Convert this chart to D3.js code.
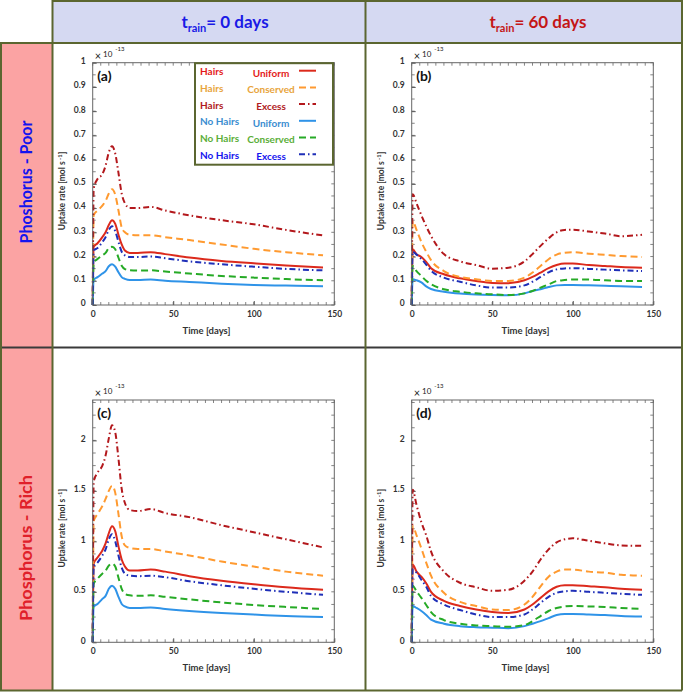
<!DOCTYPE html>
<html>
<head>
<meta charset="utf-8">
<script src="https://cdn.jsdelivr.net/npm/d3@7"></script>
<style>
  body { margin: 0; background: #fff; }
  text { font-family: Lato, "Open Sans", sans-serif; }
</style>
</head>
<body>
<div id="chart"></div>
<script>
// time grids (days)
const timeT0 = [0, 0.6, 3, 6, 8, 10, 12, 14, 16, 18, 20, 23, 28, 36, 45, 60, 80, 100, 120, 143];
const timeT60 = [0, 0.6, 3, 6, 9, 12, 20, 30, 40, 50, 60, 70, 75, 80, 85, 90, 95, 100, 110, 120, 130, 143];

// series order: Hairs Uniform, Hairs Conserved, Hairs Excess, No Hairs Uniform, No Hairs Conserved, No Hairs Excess
// values in 1e-13 mol/s
const poorT0 = [
  [0, 0.24, 0.255, 0.28, 0.30, 0.33, 0.35, 0.335, 0.29, 0.25, 0.225, 0.215, 0.215, 0.218, 0.21, 0.196, 0.182, 0.172, 0.163, 0.155],
  [0, 0.37, 0.39, 0.41, 0.43, 0.46, 0.478, 0.455, 0.39, 0.32, 0.30, 0.29, 0.288, 0.288, 0.28, 0.268, 0.25, 0.232, 0.218, 0.205],
  [0, 0.48, 0.52, 0.54, 0.575, 0.63, 0.655, 0.625, 0.545, 0.46, 0.42, 0.40, 0.40, 0.405, 0.39, 0.37, 0.35, 0.333, 0.31, 0.287],
  [0, 0.105, 0.115, 0.13, 0.14, 0.16, 0.168, 0.158, 0.135, 0.115, 0.108, 0.103, 0.103, 0.105, 0.10, 0.095, 0.088, 0.083, 0.08, 0.077],
  [0, 0.175, 0.19, 0.205, 0.215, 0.235, 0.24, 0.23, 0.195, 0.162, 0.148, 0.143, 0.142, 0.143, 0.138, 0.13, 0.12, 0.113, 0.107, 0.102],
  [0, 0.225, 0.235, 0.26, 0.28, 0.31, 0.325, 0.305, 0.26, 0.22, 0.205, 0.198, 0.198, 0.20, 0.193, 0.18, 0.168, 0.158, 0.149, 0.143]
];
const poorT60 = [
  [0, 0.23, 0.21, 0.198, 0.178, 0.152, 0.127, 0.11, 0.099, 0.091, 0.09, 0.102, 0.116, 0.134, 0.152, 0.165, 0.171, 0.171, 0.165, 0.161, 0.157, 0.154],
  [0, 0.347, 0.31, 0.26, 0.22, 0.185, 0.14, 0.116, 0.106, 0.099, 0.099, 0.113, 0.134, 0.161, 0.189, 0.208, 0.216, 0.218, 0.212, 0.207, 0.202, 0.198],
  [0, 0.457, 0.42, 0.37, 0.325, 0.285, 0.21, 0.18, 0.165, 0.15, 0.154, 0.18, 0.21, 0.244, 0.275, 0.30, 0.31, 0.311, 0.303, 0.295, 0.284, 0.29],
  [0, 0.106, 0.102, 0.093, 0.077, 0.066, 0.055, 0.047, 0.043, 0.041, 0.04, 0.048, 0.058, 0.065, 0.074, 0.081, 0.083, 0.083, 0.081, 0.079, 0.077, 0.074],
  [0, 0.161, 0.14, 0.12, 0.10, 0.086, 0.065, 0.055, 0.048, 0.044, 0.041, 0.048, 0.058, 0.072, 0.085, 0.099, 0.103, 0.105, 0.105, 0.102, 0.099, 0.099],
  [0, 0.22, 0.208, 0.19, 0.167, 0.142, 0.113, 0.096, 0.081, 0.072, 0.072, 0.081, 0.096, 0.116, 0.135, 0.147, 0.151, 0.152, 0.149, 0.146, 0.143, 0.14]
];
const richT0 = [
  [0, 0.78, 0.84, 0.91, 0.98, 1.08, 1.15, 1.10, 0.95, 0.82, 0.75, 0.71, 0.71, 0.72, 0.70, 0.655, 0.61, 0.575, 0.545, 0.52],
  [0, 1.20, 1.27, 1.35, 1.42, 1.50, 1.55, 1.48, 1.27, 1.05, 0.96, 0.935, 0.925, 0.925, 0.90, 0.86, 0.80, 0.75, 0.70, 0.66],
  [0, 1.59, 1.68, 1.75, 1.85, 2.02, 2.15, 2.08, 1.82, 1.52, 1.38, 1.31, 1.30, 1.32, 1.28, 1.24, 1.16, 1.09, 1.02, 0.94],
  [0, 0.35, 0.38, 0.43, 0.46, 0.53, 0.56, 0.53, 0.45, 0.38, 0.355, 0.34, 0.34, 0.345, 0.33, 0.31, 0.29, 0.275, 0.26, 0.25],
  [0, 0.58, 0.63, 0.68, 0.71, 0.76, 0.78, 0.75, 0.64, 0.53, 0.48, 0.465, 0.46, 0.465, 0.45, 0.425, 0.395, 0.37, 0.35, 0.33],
  [0, 0.75, 0.79, 0.86, 0.92, 1.02, 1.07, 1.00, 0.86, 0.74, 0.68, 0.66, 0.655, 0.66, 0.645, 0.605, 0.565, 0.53, 0.50, 0.47]
];
const richT60 = [
  [0, 0.77, 0.70, 0.65, 0.585, 0.50, 0.41, 0.36, 0.325, 0.30, 0.29, 0.325, 0.374, 0.44, 0.505, 0.55, 0.565, 0.565, 0.555, 0.545, 0.53, 0.52],
  [0, 1.15, 1.06, 0.93, 0.79, 0.66, 0.49, 0.40, 0.36, 0.325, 0.32, 0.374, 0.45, 0.555, 0.65, 0.70, 0.72, 0.72, 0.70, 0.69, 0.67, 0.66],
  [0, 1.51, 1.36, 1.19, 1.06, 0.90, 0.70, 0.59, 0.545, 0.51, 0.52, 0.61, 0.70, 0.82, 0.92, 0.99, 1.02, 1.03, 1.005, 0.98, 0.96, 0.955],
  [0, 0.36, 0.34, 0.31, 0.27, 0.225, 0.184, 0.16, 0.15, 0.145, 0.14, 0.16, 0.184, 0.21, 0.24, 0.27, 0.28, 0.28, 0.275, 0.27, 0.26, 0.255],
  [0, 0.56, 0.505, 0.44, 0.37, 0.30, 0.22, 0.184, 0.167, 0.16, 0.154, 0.17, 0.21, 0.26, 0.31, 0.34, 0.355, 0.36, 0.355, 0.35, 0.34, 0.33],
  [0, 0.72, 0.69, 0.62, 0.55, 0.46, 0.374, 0.32, 0.276, 0.25, 0.25, 0.276, 0.325, 0.39, 0.45, 0.49, 0.505, 0.51, 0.50, 0.49, 0.48, 0.47]
];

const rootLabels = ["Hairs", "Hairs", "Hairs", "No Hairs", "No Hairs", "No Hairs"];
const supplyLabels = ["Uniform", "Conserved", "Excess", "Uniform", "Conserved", "Excess"];
const lineColors = ["#dc2a1c", "#ff9a30", "#b3181c", "#2f93e8", "#26aa26", "#1f2fb8"];
const textColors = ["#e41a1a", "#e8a43c", "#b01a22", "#3a8dd0", "#5aae38", "#1414ee"];
const dashes = [null, "7,4", "6,3,1.5,3", null, "7,4", "6,3,1.5,3"];

const xTicks = [0, 50, 100, 150];
const poorYTicks = [0, 0.1, 0.2, 0.3, 0.4, 0.5, 0.6, 0.7, 0.8, 0.9, 1];
const richYTicks = [0, 0.5, 1, 1.5, 2];

const W = 685, H = 692;
const border = "#5b6630";
const colX = [52.5, 365.5, 682];
const rowY = [1, 43, 347.5, 690.5];

const svg = d3.select("#chart").append("svg")
    .attr("width", W).attr("height", H);

// --- table background ---
svg.append("rect").attr("x", colX[0]).attr("y", rowY[0])
    .attr("width", colX[2] - colX[0]).attr("height", rowY[1] - rowY[0])
    .attr("fill", "#d5d9f2");
svg.append("rect").attr("x", 1).attr("y", rowY[1])
    .attr("width", colX[0] - 1).attr("height", rowY[3] - rowY[1])
    .attr("fill", "#fba3a3");

// header texts
const headers = [
    { x: 225, text: "= 0 days", color: "#1a1ae6", len: 88 },
    { x: 538, text: "= 60 days", color: "#c41616", len: 99 }
];
headers.forEach(h => {
    const t = svg.append("text")
        .attr("x", h.x).attr("y", 28)
        .attr("text-anchor", "middle")
        .style("font-size", "17px").style("font-weight", "bold")
        .attr("fill", h.color);
    t.append("tspan").text("t");
    t.append("tspan").attr("dy", 4).style("font-size", "11px").text("rain");
    t.append("tspan").attr("dy", -4).text(h.text);
});

// row texts
const rowLabels = [
    { y: 182, text: "Phoshorus - Poor", color: "#1414ee", len: 123 },
    { y: 548, text: "Phosphorus - Rich", color: "#e0202a", len: 146 }
];
rowLabels.forEach(r => {
    svg.append("text")
        .attr("transform", `translate(32,${r.y}) rotate(-90)`)
        .attr("text-anchor", "middle")
        .attr("textLength", r.len).attr("lengthAdjust", "spacingAndGlyphs")
        .style("font-size", "17px").style("font-weight", "bold")
        .attr("fill", r.color)
        .text(r.text);
});

// --- panels ---
const panels = [
    { id: "(a)", x: 92.7, y: 62.7, time: timeT0, data: poorT0, yMax: 1, yTicks: poorYTicks, minor: 0.05, legend: true },
    { id: "(b)", x: 411.7, y: 62.7, time: timeT60, data: poorT60, yMax: 1, yTicks: poorYTicks, minor: 0.05 },
    { id: "(c)", x: 92.7, y: 400, time: timeT0, data: richT0, yMax: 2.4, yTicks: richYTicks, minor: 0.125 },
    { id: "(d)", x: 411.7, y: 400, time: timeT60, data: richT60, yMax: 2.4, yTicks: richYTicks, minor: 0.125 }
];
const pw = 241.6, ph = 242.3;

panels.forEach(p => {
    const g = svg.append("g").attr("transform", `translate(${p.x},${p.y})`);
    const x = d3.scaleLinear().domain([0, 150]).range([0, pw]);
    const y = d3.scaleLinear().domain([0, p.yMax]).range([ph, 0]);

    const xMinor = d3.range(0, 150.01, 5);
    const yMinor = d3.range(0, p.yMax + 1e-6, p.minor);
    const fmt = d => String(+d.toFixed(2));

    // inner minor ticks on all four sides
    const tickG = g.append("g").attr("stroke", "#666").attr("stroke-width", 0.8);
    xMinor.forEach(v => {
        tickG.append("line").attr("x1", x(v)).attr("x2", x(v)).attr("y1", ph).attr("y2", ph - 3);
        tickG.append("line").attr("x1", x(v)).attr("x2", x(v)).attr("y1", 0).attr("y2", 3);
    });
    yMinor.forEach(v => {
        tickG.append("line").attr("x1", 0).attr("x2", 3).attr("y1", y(v)).attr("y2", y(v));
        tickG.append("line").attr("x1", pw).attr("x2", pw - 3).attr("y1", y(v)).attr("y2", y(v));
    });

    const xAxis = g.append("g").attr("transform", `translate(0,${ph})`)
        .call(d3.axisBottom(x).tickValues(xTicks).tickFormat(d3.format("d")).tickSizeInner(-4).tickSizeOuter(0).tickPadding(6));
    const yAxis = g.append("g")
        .call(d3.axisLeft(y).tickValues(p.yTicks).tickFormat(fmt).tickSizeInner(-4).tickSizeOuter(0).tickPadding(7));
    [xAxis, yAxis].forEach(a => {
        a.select(".domain").remove();
        a.selectAll("line").attr("stroke", "#555");
        a.selectAll("text").style("font-size", "8.5px").style("font-weight", "bold")
            .style("font-family", "Lato, sans-serif").attr("fill", "#333");
    });
    yAxis.selectAll("text").attr("dy", "0.1em");

    // series
    const line = d3.line()
        .x((d, i) => x(p.time[i]))
        .y(d => y(d))
        .curve(d3.curveMonotoneX);
    p.data.forEach((vals, k) => {
        g.append("path")
            .attr("d", line(vals))
            .attr("fill", "none")
            .attr("stroke", lineColors[k])
            .attr("stroke-width", 2)
            .attr("stroke-dasharray", dashes[k]);
    });

    // frame
    g.append("rect").attr("width", pw).attr("height", ph)
        .attr("fill", "none").attr("stroke", "#666").attr("stroke-width", 1);

    // panel label
    g.append("text").attr("x", 4.5).attr("y", 18)
        .style("font-size", "14px").style("font-weight", "bold").attr("fill", "#111")
        .text(p.id);

    // exponent
    const ex = g.append("text").attr("x", 2).attr("y", -3)
        .style("font-size", "8px").attr("fill", "#222");
    ex.append("tspan").style("font-size", "11px").text("\u00d7");
    ex.append("tspan").attr("dx", 2).attr("dy", -3).text("10");
    ex.append("tspan").attr("dx", 3).attr("dy", -6).style("font-size", "6px").text("-13");

    // axis titles
    g.append("text").attr("x", pw / 2 - 7).attr("y", ph + 29)
        .attr("text-anchor", "middle")
        .style("font-size", "9.5px").style("font-weight", "bold").attr("fill", "#333")
        .text("Time [days]");
    const yl = g.append("text")
        .attr("transform", `translate(-28,${ph / 2 + 7}) rotate(-90)`)
        .attr("text-anchor", "middle")
        .style("font-size", "8.5px").style("font-weight", "bold").attr("fill", "#333");
    yl.append("tspan").text("Uptake rate [mol s");
    yl.append("tspan").attr("dy", -3).style("font-size", "6px").text(" -1");
    yl.append("tspan").attr("dy", 3).text("]");

    if (p.legend) {
        const lg = g.append("g").attr("transform", "translate(102.3,0.5)");
        lg.append("rect").attr("width", 138).attr("height", 101.5)
            .attr("fill", "#fff").attr("stroke", border).attr("stroke-width", 2);
        rootLabels.forEach((lab, k) => {
            const by = 12 + k * 16.7;
            lg.append("text").attr("x", 5).attr("y", by)
                .style("font-size", "10px").style("font-weight", "bold")
                .attr("fill", textColors[k]).text(lab);
            lg.append("text").attr("x", 76).attr("y", by + 1.5)
                .attr("text-anchor", "middle")
                .style("font-size", "10px").style("font-weight", "bold")
                .attr("fill", textColors[k]).text(supplyLabels[k]);
            lg.append("line").attr("x1", 104).attr("x2", 121)
                .attr("y1", by - 4.5).attr("y2", by - 4.5)
                .attr("stroke", lineColors[k]).attr("stroke-width", 2)
                .attr("stroke-dasharray", dashes[k]);
        });
    }
});

// --- table grid lines ---
const grid = svg.append("g").attr("stroke", border).attr("stroke-width", 2);
grid.append("line").attr("x1", colX[0]).attr("x2", colX[2]).attr("y1", rowY[0]).attr("y2", rowY[0]);
grid.append("line").attr("x1", 0).attr("x2", colX[2]).attr("y1", rowY[1]).attr("y2", rowY[1]);
grid.append("line").attr("x1", 0).attr("x2", colX[2]).attr("y1", rowY[2]).attr("y2", rowY[2]).attr("stroke", "#3a3a3a");
grid.append("line").attr("x1", 0).attr("x2", colX[2]).attr("y1", rowY[3]).attr("y2", rowY[3]);
grid.append("line").attr("x1", 1).attr("x2", 1).attr("y1", rowY[1]).attr("y2", rowY[3]);
colX.forEach(cx => {
    grid.append("line").attr("x1", cx).attr("x2", cx).attr("y1", 0).attr("y2", rowY[3]);
});
</script>
</body>
</html>
